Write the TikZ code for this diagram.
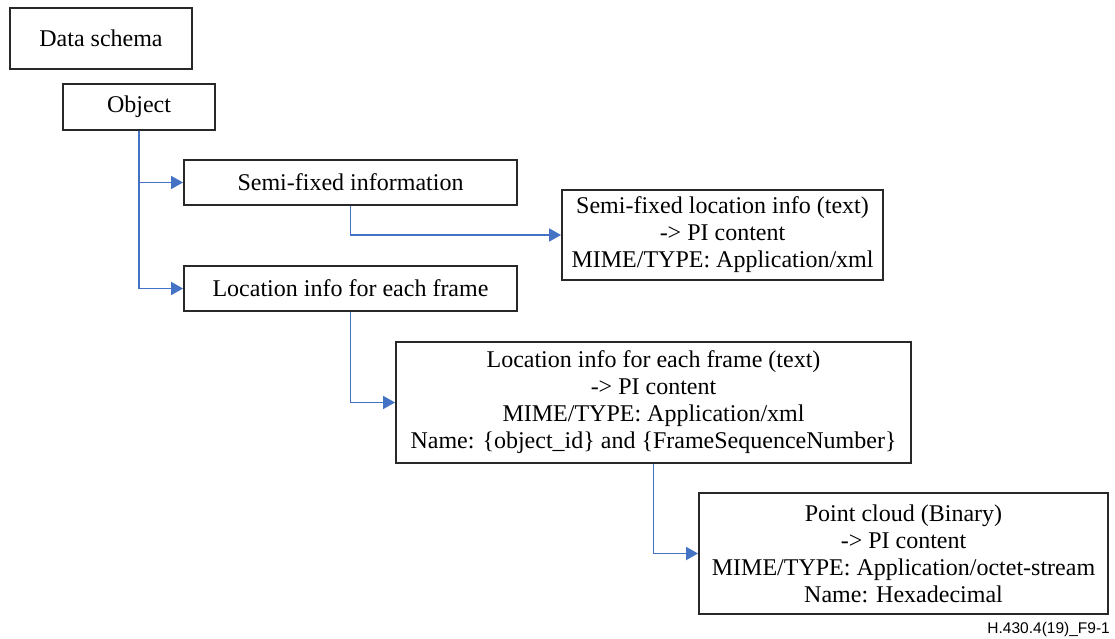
\documentclass[tikz,border=0pt]{standalone}
\usepackage{fontspec}
\setmainfont{Liberation Serif}
\setsansfont{Liberation Sans}
\usetikzlibrary{arrows.meta}
\definecolor{linkblue}{RGB}{68,114,196}
\definecolor{boxline}{RGB}{40,40,40}
\tikzset{
  x=1pt, y=-1pt,
  box/.style={draw=boxline, line width=1.9pt, align=center, inner sep=0pt,
              font=\fontsize{24}{27}\selectfont},
  link/.style={draw=linkblue, line width=1.8pt,
               -{Triangle[length=12pt,width=13pt]}},
}
\begin{document}
\begin{tikzpicture}
\useasboundingbox (0,0) rectangle (1115,639);

\node[box, minimum width=182pt, minimum height=61pt] (ds) at (101,38.5) {Data schema};
\node[box, minimum width=152pt, minimum height=46pt] (obj) at (139,107) {Object};
\node[box, minimum width=333pt, minimum height=45pt] (semi) at (350.5,182.5) {Semi-fixed information};
\node[box, minimum width=333pt, minimum height=45pt] (loc) at (350.5,288.5) {Location info for each frame};
\node[box, minimum width=321pt, minimum height=90pt] (semiinfo) at (722.5,235)
  {Semi-fixed location info (text)\\-> PI content\\MIME/TYPE: Application/xml};
\node[box, minimum width=515pt, minimum height=121pt] (locinfo) at (653.5,402.5)
  {Location info for each frame (text)\\-> PI content\\MIME/TYPE: Application/xml\\Name: \{object\_id\} and \{FrameSequenceNumber\}};
\node[box, minimum width=409pt, minimum height=121pt] (pc) at (903.5,553.5)
  {Point cloud (Binary)\\-> PI content\\MIME/TYPE: Application/octet-stream\\Name: Hexadecimal};

\draw[link] (obj.south) |- (semi.west);
\draw[link] (obj.south) |- (loc.west);
\draw[link] (semi.south) |- (semiinfo.west);
\draw[link] (loc.south) |- (locinfo.west);
\draw[link] (locinfo.south) |- (pc.west);

\node[anchor=base east, inner sep=0pt, font=\sffamily\fontsize{15.5}{18}\selectfont] (tag) at (1110,633) {H.430.4(19)\_F9-1};
\end{tikzpicture}
\end{document}
